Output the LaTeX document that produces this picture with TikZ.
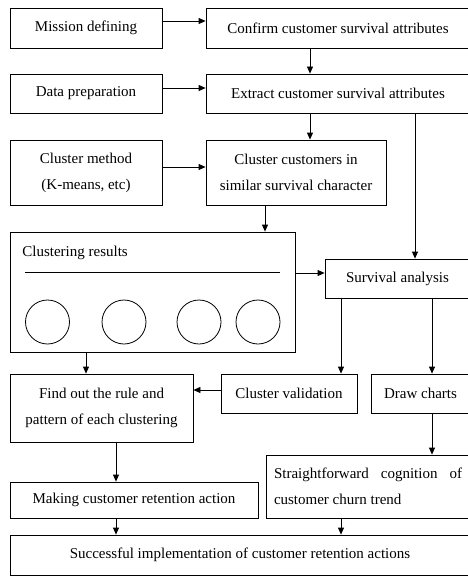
\documentclass[tikz,border=0pt]{standalone}
\usepackage{fontspec}
\setmainfont{Liberation Serif}
\usetikzlibrary{arrows.meta}

\begin{document}
\begin{tikzpicture}[x=1pt, y=-1pt, line width=0.8pt,
  box/.style={draw, inner sep=0pt, align=center, font=\fontsize{15}{26}\selectfont},
  ring/.style={draw, circle, minimum size=44pt, inner sep=0pt},
  arr/.style={-{Triangle[length=7pt,width=6pt]}}]
\useasboundingbox (0,0) rectangle (468,583);
% boxes
\node[box, minimum width=152pt, minimum height=40pt] (mission) at (86,28) {Mission defining};
\node[box, minimum width=264pt, minimum height=40pt] (confirm) at (338,28) {Confirm customer survival attributes};
\node[box, minimum width=152pt, minimum height=39pt] (datap) at (86,93.5) {Data preparation};
\node[box, minimum width=264pt, minimum height=39pt] (extract) at (338,93.5) {Extract customer survival attributes};
\node[box, minimum width=152pt, minimum height=65pt] (method) at (86,172.5) {Cluster method\\(K-means, etc)};
\node[box, minimum width=180pt, minimum height=65pt] (clcust) at (296,172.5) {Cluster customers in\\similar survival character};
\node[box, minimum width=285pt, minimum height=120pt] (results) at (152.5,292) {};
\node[box, minimum width=145pt, minimum height=39pt] (survival) at (397.5,278.5) {Survival analysis};
\node[box, minimum width=183pt, minimum height=68pt] (findout) at (101.5,408) {Find out the rule and\\pattern of each clustering};
\node[box, minimum width=136pt, minimum height=39pt] (valid) at (289,393.5) {Cluster validation};
\node[box, minimum width=99pt, minimum height=39pt] (charts) at (420.5,393.5) {Draw charts};
\node[box, align=left, minimum width=204pt, minimum height=63pt] (straight) at (368,486.5)
  {\makebox[188pt][s]{Straightforward cognition of}\\customer churn trend};
\node[box, minimum width=248pt, minimum height=36pt] (making) at (134,500) {Making customer retention action};
\node[box, minimum width=460pt, minimum height=40pt] (success) at (240,555) {Successful implementation of customer retention actions};
% inside the clustering results box
\node[box, draw=none, anchor=west] (restitle) at (22,253) {Clustering results};
\draw (25,272) -- (280,272);
\foreach \cx [count=\i] in {47.5,124,199,258}
  \node[ring] (k\i) at (\cx,322) {};
% columns and rows for the connectors
\coordinate (colA) at (310,0);
\coordinate (colB) at (265,0);
\coordinate (colC) at (415,0);
\coordinate (colD) at (341,0);
\coordinate (colE) at (432,0);
\coordinate (colF) at (86,0);
\coordinate (colG) at (116,0);
\coordinate (rowR) at ([yshift=5.5pt]survival.west);
\coordinate (rowV) at ([yshift=3.5pt]valid.west);
% connectors
\draw[arr] ([yshift=7pt]mission.east) -- ([yshift=7pt]confirm.west);
\draw[arr] ([yshift=5.5pt]datap.east) -- ([yshift=5.5pt]extract.west);
\draw[arr] ([yshift=5.5pt]method.east) -- ([yshift=5.5pt]clcust.west);
\draw[arr] (confirm.south -| colA) -- (extract.north -| colA);
\draw[arr] (extract.south -| colA) -- (clcust.north -| colA);
\draw[arr] (extract.south -| colC) -- (survival.north -| colC);
\draw[arr] (clcust.south -| colB) -- (results.north -| colB);
\draw[arr] (results.east |- rowR) -- (rowR);
\draw[arr] (survival.south -| colD) -- (valid.north -| colD);
\draw[arr] (survival.south -| colE) -- (charts.north -| colE);
\draw[arr] (results.south -| colF) -- (findout.north -| colF);
\draw[arr] (rowV) -- (findout.east |- rowV);
\draw[arr] (charts.south -| colE) -- (straight.north -| colE);
\draw[arr] (findout.south -| colG) -- (making.north -| colG);
\draw[arr] (making.south -| colG) -- (success.north -| colG);
\draw[arr] (straight.south -| colD) -- (success.north -| colD);
\end{tikzpicture}
\end{document}
